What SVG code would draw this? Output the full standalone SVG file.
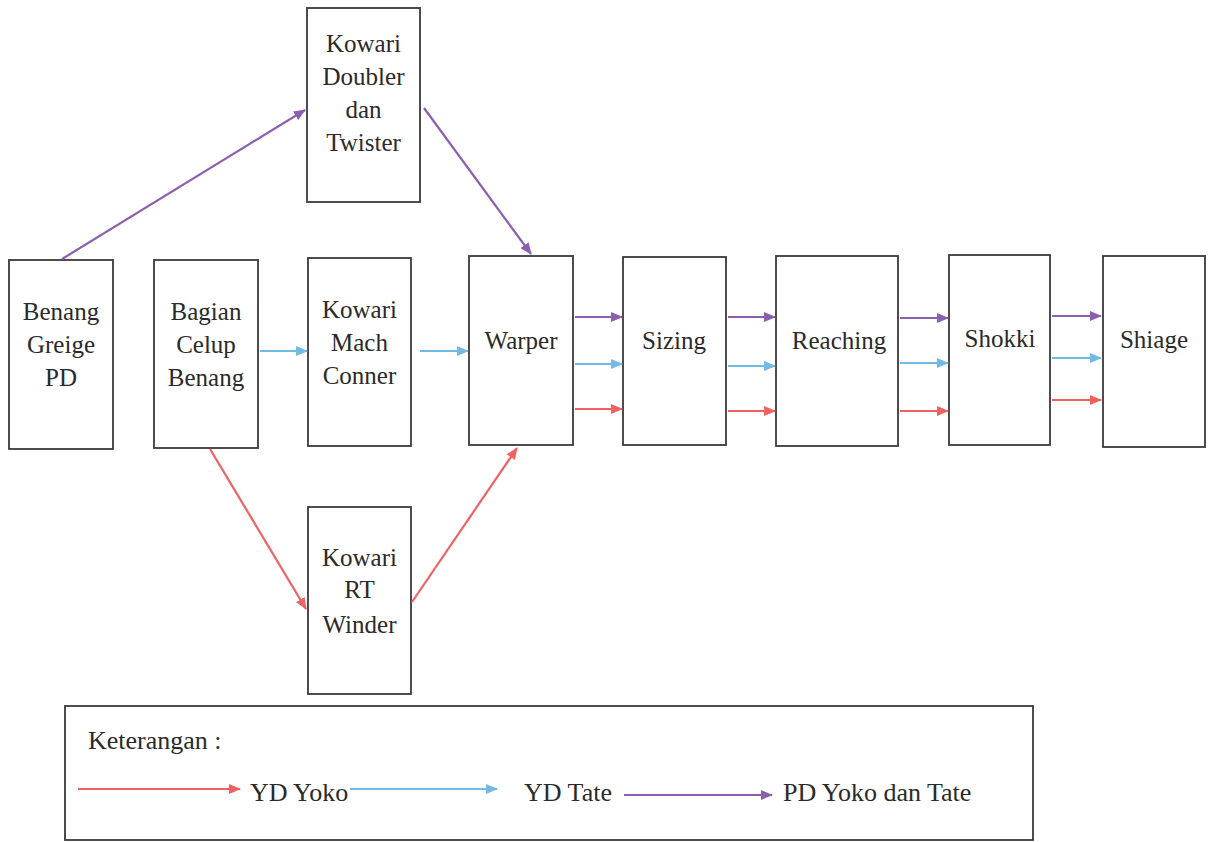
<svg xmlns="http://www.w3.org/2000/svg" width="1211" height="842" viewBox="0 0 1211 842">
<style>
.box{fill:#fff;stroke:#3a3a3a;stroke-width:1.8}
.t{font-family:'Liberation Serif','Times New Roman',Tinos,'DejaVu Serif',serif;font-size:25px;fill:#2a2a2a;text-anchor:middle}
.lt{font-family:'Liberation Serif','Times New Roman',Tinos,'DejaVu Serif',serif;font-size:26px;fill:#2a2a2a}
.r{stroke:#f06262;stroke-width:2.2;fill:none}
.b{stroke:#72b9e6;stroke-width:2.2;fill:none}
.p{stroke:#8c5fae;stroke-width:2.2;fill:none}
</style>
<defs>
<marker id="ar" markerWidth="12" markerHeight="10" refX="11" refY="5" orient="auto" markerUnits="userSpaceOnUse"><path d="M0,0 L12,5 L0,10 z" fill="#f06262"/></marker>
<marker id="ab" markerWidth="12" markerHeight="10" refX="11" refY="5" orient="auto" markerUnits="userSpaceOnUse"><path d="M0,0 L12,5 L0,10 z" fill="#72b9e6"/></marker>
<marker id="ap" markerWidth="12" markerHeight="10" refX="11" refY="5" orient="auto" markerUnits="userSpaceOnUse"><path d="M0,0 L12,5 L0,10 z" fill="#8c5fae"/></marker>
</defs>
<rect width="1211" height="842" fill="#fff"/>

<g id="doubler"><rect class="box" x="307" y="8" width="113" height="194"/>
<text class="t" x="363.5" y="52" font-family="Liberation Serif, serif">Kowari</text><text class="t" x="363.5" y="85">Doubler</text><text class="t" x="363.5" y="118">dan</text><text class="t" x="363.5" y="151">Twister</text></g>
<g id="greige"><rect class="box" x="9" y="260" width="104" height="189"/>
<text class="t" x="61" y="320">Benang</text><text class="t" x="61" y="353">Greige</text><text class="t" x="61" y="386">PD</text></g>
<g id="celup"><rect class="box" x="154" y="260" width="104" height="188"/>
<text class="t" x="206" y="320">Bagian</text><text class="t" x="206" y="353">Celup</text><text class="t" x="206" y="386">Benang</text></g>
<g id="mach"><rect class="box" x="308" y="258" width="103" height="188"/>
<text class="t" x="359.5" y="318">Kowari</text><text class="t" x="359.5" y="351">Mach</text><text class="t" x="359.5" y="384">Conner</text></g>
<g id="warper"><rect class="box" x="469" y="256" width="104" height="189"/>
<text class="t" x="521" y="349">Warper</text></g>
<g id="sizing"><rect class="box" x="623" y="257" width="103" height="188"/>
<text class="t" x="674" y="349">Sizing</text></g>
<g id="reaching"><rect class="box" x="776" y="256" width="122" height="190"/>
<text class="t" x="839" y="349">Reaching</text></g>
<g id="shokki"><rect class="box" x="949" y="255" width="101" height="190"/>
<text class="t" x="1000" y="347">Shokki</text></g>
<g id="shiage"><rect class="box" x="1103" y="256" width="102" height="191"/>
<text class="t" x="1154" y="348">Shiage</text></g>
<g id="winder"><rect class="box" x="308" y="507" width="103" height="187"/>
<text class="t" x="359.5" y="566">Kowari</text><text class="t" x="359.5" y="598">RT</text><text class="t" x="359.5" y="633">Winder</text></g>

<g id="connectors">
<line class="p" x1="62" y1="259" x2="305" y2="110" marker-end="url(#ap)"/>
<line class="p" x1="424" y1="108" x2="531" y2="254" marker-end="url(#ap)"/>
<line class="b" x1="260" y1="351" x2="307" y2="351" marker-end="url(#ab)"/>
<line class="b" x1="420" y1="351" x2="468" y2="351" marker-end="url(#ab)"/>
<line class="r" x1="210" y1="449" x2="306" y2="609" marker-end="url(#ar)"/>
<line class="r" x1="412" y1="602" x2="517" y2="448" marker-end="url(#ar)"/>

<line class="p" x1="575" y1="317" x2="622" y2="317" marker-end="url(#ap)"/>
<line class="b" x1="575" y1="364" x2="622" y2="364" marker-end="url(#ab)"/>
<line class="r" x1="575" y1="409" x2="622" y2="409" marker-end="url(#ar)"/>

<line class="p" x1="728" y1="317" x2="775" y2="317" marker-end="url(#ap)"/>
<line class="b" x1="728" y1="366" x2="775" y2="366" marker-end="url(#ab)"/>
<line class="r" x1="728" y1="411" x2="775" y2="411" marker-end="url(#ar)"/>

<line class="p" x1="900" y1="318" x2="948" y2="318" marker-end="url(#ap)"/>
<line class="b" x1="900" y1="363" x2="948" y2="363" marker-end="url(#ab)"/>
<line class="r" x1="900" y1="411" x2="948" y2="411" marker-end="url(#ar)"/>

<line class="p" x1="1052" y1="316" x2="1101" y2="316" marker-end="url(#ap)"/>
<line class="b" x1="1052" y1="358" x2="1101" y2="358" marker-end="url(#ab)"/>
<line class="r" x1="1052" y1="400" x2="1101" y2="400" marker-end="url(#ar)"/>
</g>

<g id="legend">
<rect class="box" x="65" y="706" width="968" height="134"/>
<text class="lt" x="88" y="749">Keterangan :</text>
<line class="r" x1="78" y1="789" x2="240" y2="789" marker-end="url(#ar)"/>
<text class="lt" x="250" y="801">YD Yoko</text>
<line class="b" x1="350" y1="789" x2="497" y2="789" marker-end="url(#ab)"/>
<text class="lt" x="524" y="801">YD Tate</text>
<line class="p" x1="624" y1="795" x2="772" y2="795" marker-end="url(#ap)"/>
<text class="lt" x="783" y="801">PD Yoko dan Tate</text>
</g>
</svg>
